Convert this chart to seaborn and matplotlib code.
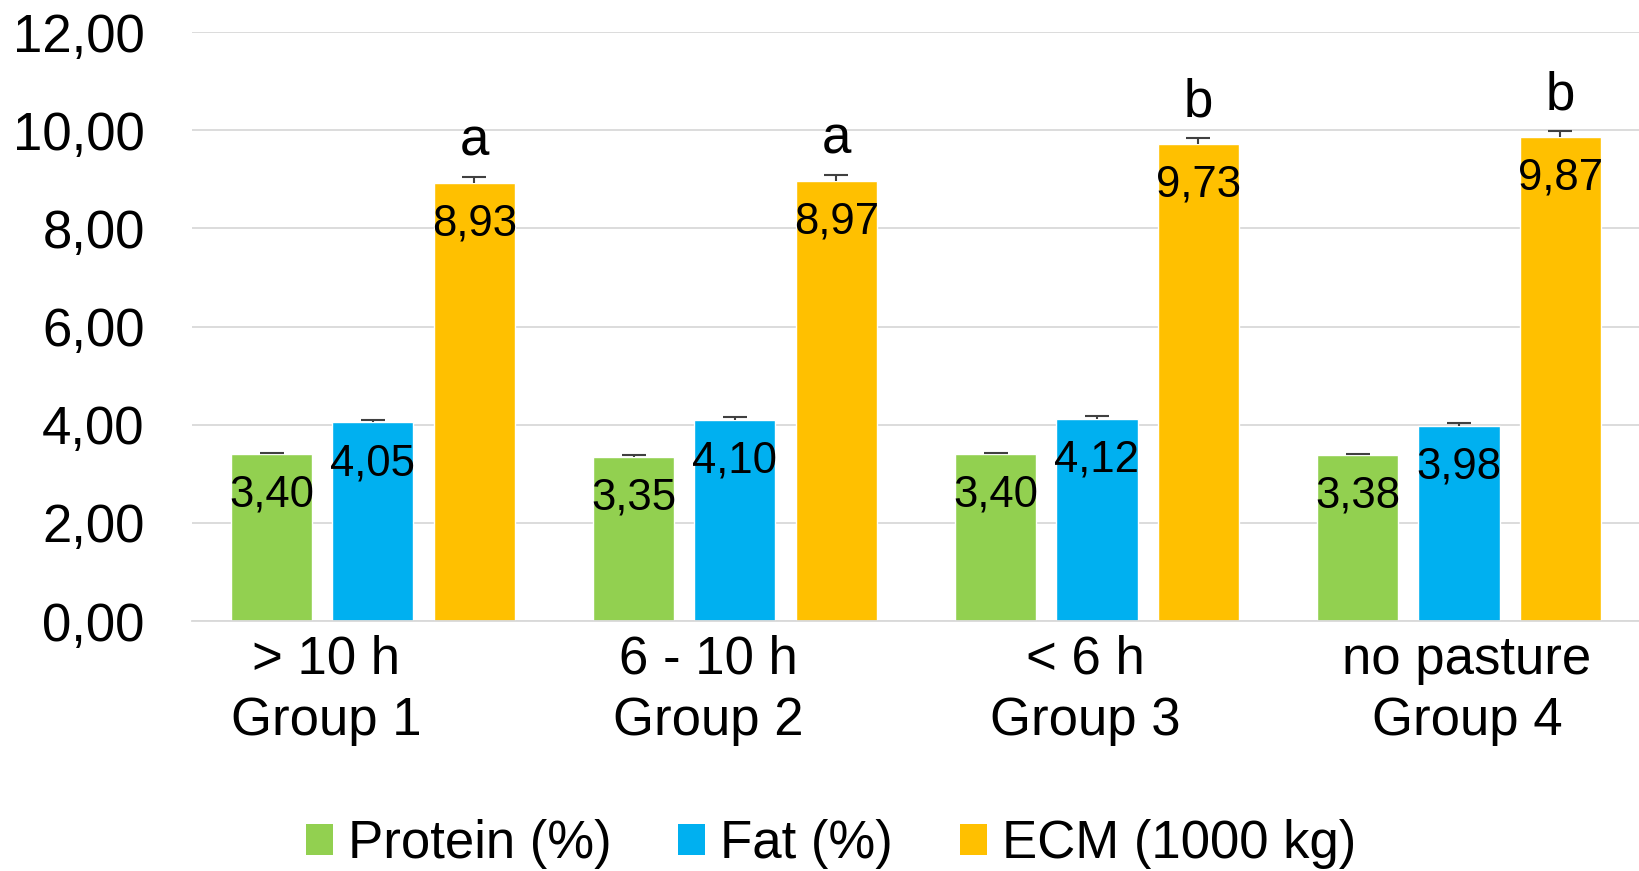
import matplotlib
matplotlib.use("Agg")
import matplotlib.pyplot as plt
import matplotlib.transforms as mtransforms
import seaborn as sns
import pandas as pd
from matplotlib.patches import Patch
from matplotlib.container import BarContainer
from matplotlib.ticker import FuncFormatter

groups = ["> 10 h\nGroup 1", "6 - 10 h\nGroup 2", "< 6 h\nGroup 3", "no pasture\nGroup 4"]
series = ["Protein (%)", "Fat (%)", "ECM (1000 kg)"]
protein = [3.40, 3.35, 3.40, 3.38]
fat = [4.05, 4.10, 4.12, 3.98]
ecm = [8.93, 8.97, 9.73, 9.87]
protein_err = [0.03, 0.03, 0.03, 0.03]
fat_err = [0.05, 0.05, 0.05, 0.05]
ecm_err = [0.12, 0.12, 0.12, 0.12]
ecm_letters = ["a", "a", "b", "b"]
colors = ["#92D050", "#00B0F0", "#FFC000"]

sns.set_theme(style="white")
plt.rcParams["font.family"] = ["Liberation Sans", "DejaVu Sans"]
plt.rcParams["text.color"] = "black"
plt.rcParams["xtick.color"] = "black"
plt.rcParams["ytick.color"] = "black"

rows = []
for s, vals in zip(series, [protein, fat, ecm]):
    for g, v in zip(groups, vals):
        rows.append({"group": g, "series": s, "value": v})
df = pd.DataFrame(rows)

fig = plt.figure(figsize=(16.4, 8.71), dpi=100)
ax = fig.add_axes([0.117, 0.287, 0.883, 0.676])

sns.barplot(data=df, x="group", y="value", hue="series", order=groups,
            hue_order=series, palette=colors, width=0.84, gap=0.2,
            errorbar=None, saturation=1, ax=ax, legend=False, zorder=2)

errs = [protein_err, fat_err, ecm_err]
bar_conts = [c for c in ax.containers if isinstance(c, BarContainer)]
for ci, cont in enumerate(bar_conts):
    xs = [p.get_x() + p.get_width() / 2 for p in cont.patches]
    hs = [p.get_height() for p in cont.patches]
    eb = ax.errorbar(xs, hs, yerr=[[0] * len(hs), errs[ci]], fmt="none",
                     ecolor="#404040", elinewidth=1.5, capsize=8.5,
                     capthick=1.5, zorder=3)
    eb[1][0].set_visible(False)
    for x, h in zip(xs, hs):
        ax.text(x, h - 0.84, f"{h:.2f}".replace(".", ","), ha="center",
                va="center", fontsize=31.5, color="black", zorder=4)
    if ci == 2:
        for x, h, lab in zip(xs, hs, ecm_letters):
            ax.text(x, h + 0.56, lab, ha="center", va="baseline",
                    fontsize=38, color="black", zorder=4)

ax.set_ylim(0, 12)
ax.set_xlim(-0.5, 3.5)
ax.set_yticks([0, 2, 4, 6, 8, 10, 12])
ax.yaxis.set_major_formatter(FuncFormatter(lambda v, p: f"{v:.2f}".replace(".", ",")))
ax.grid(axis="y", color="#D9D9D9", linewidth=1.3, zorder=0)
ax.set_axisbelow(True)
for side in ["left", "right", "top"]:
    ax.spines[side].set_visible(False)
ax.spines["bottom"].set_color("#D9D9D9")
ax.spines["bottom"].set_linewidth(1.3)
ax.tick_params(axis="y", length=0, pad=34, labelsize=38)
ax.tick_params(axis="x", length=0, pad=10, labelsize=38)
label_shift_px = [-47, -27, -12, 8]
for t, dx in zip(ax.get_xticklabels(), label_shift_px):
    t.set_linespacing(1.28)
    t.set_transform(t.get_transform() + mtransforms.ScaledTranslation(dx / 100, 0, fig.dpi_scale_trans))
ax.set_xlabel("")
ax.set_ylabel("")

handles = [Patch(facecolor=c, edgecolor="none") for c in colors]
fig.legend(handles, series, loc="lower center", bbox_to_anchor=(0.5067, 0.002),
           ncol=3, frameon=False, fontsize=38, handlelength=0.51,
           handleheight=0.51, handletextpad=0.28, columnspacing=1.27,
           borderpad=0, borderaxespad=0)

fig.savefig("out.png", dpi=100)
